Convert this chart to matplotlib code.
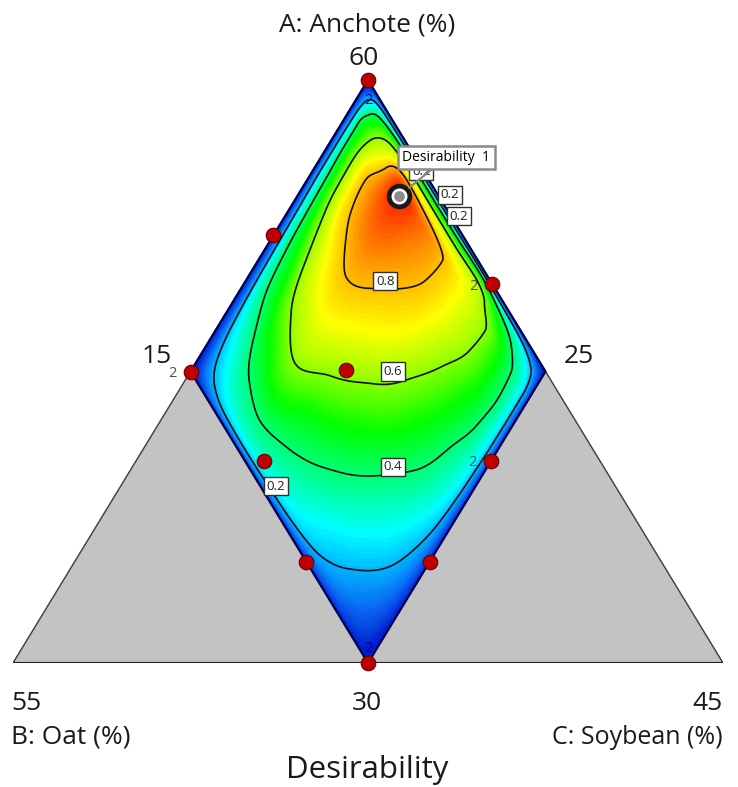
import numpy as np
import matplotlib
matplotlib.use('Agg')
import matplotlib.pyplot as plt
from matplotlib.colors import LinearSegmentedColormap

plt.rcParams['font.family'] = ['Open Sans', 'DejaVu Sans']

W, H = 738, 787

# component limits (%) of the plotted simplex
a_lo, a_hi = 30, 60
b_lo, b_hi = 25, 55
c_lo, c_hi = 15, 45
b_max, c_max = 40, 30          # extra limits giving the diamond

# design points (A, B, C)
pts_A = [60, 45, 30, 52, 49.5, 45.1, 40.4, 40.4, 35.2, 35.2]
pts_B = [25, 40, 40, 33, 25, 33.4, 39.2, 29.6, 40, 34.8]
pts_C = [15, 15, 30, 15, 25.5, 21.5, 20.4, 30, 24.8, 30]
opt = (54.05, 26.65, 19.3)     # desirability = 1

# desirability on a grid inside the diamond
# columns: B from 25 to 40, rows: C from 15 to 30 (fraction of the 15% span)
grid_b = [0, 0.02, 0.05, 0.1, 0.18, 0.28, 0.4, 0.52, 0.64, 0.76, 0.87, 0.95, 0.985, 1]
grid_c = [0, 0.02, 0.05, 0.1, 0.18, 0.28, 0.4, 0.52, 0.64, 0.76, 0.87, 0.95, 0.985, 1]
desir = [
    [0, 0, 0, 0, 0, 0, 0, 0, 0, 0, 0, 0, 0, 0],
    [0, .08, .15, .18, .19, .19, .17, .15, .13, .11, .09, .06, .03, 0],
    [0, .20, .33, .42, .42, .40, .38, .36, .33, .27, .21, .15, .07, 0],
    [0, .30, .50, .58, .62, .61, .56, .50, .45, .37, .30, .22, .12, 0],
    [0, .37, .62, .74, .83, .80, .72, .66, .58, .48, .38, .29, .16, 0],
    [0, .40, .70, 1.0, .95, .88, .80, .72, .64, .54, .42, .32, .17, 0],
    [0, .39, .68, .90, .87, .82, .75, .67, .58, .48, .39, .30, .16, 0],
    [0, .40, .66, .80, .79, .75, .68, .60, .52, .43, .35, .27, .14, 0],
    [0, .45, .66, .70, .69, .65, .59, .53, .45, .37, .29, .22, .11, 0],
    [0, .35, .52, .60, .59, .55, .50, .44, .37, .30, .23, .16, .08, 0],
    [0, .25, .38, .45, .46, .44, .39, .35, .29, .23, .16, .10, .05, 0],
    [0, .14, .25, .31, .32, .30, .28, .24, .19, .14, .09, .05, .02, 0],
    [0, .06, .11, .14, .14, .14, .12, .10, .08, .06, .03, .01, 0, 0],
    [0, 0, 0, 0, 0, 0, 0, 0, 0, 0, 0, 0, 0, 0],
]

# contour labels: (A, B, C, text)
labels = [(55.3, 25.1, 19.6, '0.2'), (54.1, 24.5, 21.4, '0.2'), (53.0, 24.65, 22.35, '0.2'),
          (39.1, 39.35, 21.55, '0.2'), (40.1, 33.9, 26.0, '0.4'), (45.0, 31.45, 23.55, '0.6'),
          (49.65, 29.45, 20.9, '0.8')]
# replicate counts next to points: (A, B, C, dx, dy)
reps = [(45, 40, 15, -18, -2), (49.5, 25, 25.5, -19, -2), (40.4, 29.6, 30, -19, -2),
        (30, 40, 30, 0, 14), (60, 25, 15, 0, -20)]


def tern(A, B, C):
    a = (np.asarray(A, float) - a_lo) / (a_hi - a_lo)
    c = (np.asarray(C, float) - c_lo) / (c_hi - c_lo)
    return c + a / 2, a


def pchip(x, y, xn):
    # monotone cubic along axis 0 of y
    x = np.asarray(x, float)
    h = np.diff(x)
    dl = np.diff(y, axis=0) / h[:, None]
    d = np.zeros_like(y)
    w1 = (2 * h[1:] + h[:-1])[:, None]
    w2 = (h[1:] + 2 * h[:-1])[:, None]
    with np.errstate(divide='ignore', invalid='ignore'):
        hm = (w1 + w2) / (w1 / dl[:-1] + w2 / dl[1:])
    d[1:-1] = np.where(dl[:-1] * dl[1:] > 0, hm, 0)
    d[0] = dl[0]
    d[-1] = dl[-1]
    k = np.clip(np.searchsorted(x, xn, side='right') - 1, 0, len(h) - 1)
    t = ((xn - x[k]) / h[k])[:, None]
    hk = h[k][:, None]
    return ((2 * t**3 - 3 * t**2 + 1) * y[k] + (t**3 - 2 * t**2 + t) * hk * d[k]
            + (-2 * t**3 + 3 * t**2) * y[k + 1] + (t**3 - t**2) * hk * d[k + 1])


Z = np.array(desir, float)
fine = np.linspace(0, 1, 301)
Z1 = pchip(grid_b, Z.T, fine)          # (u, c-rows)
Zf = pchip(grid_c, Z1.T, fine)         # (v, u)
Zf = np.clip(Zf, 0, 1)
gb, gc = np.meshgrid(fine, fine)
Bg = b_lo + (b_max - b_lo) * gb
Cg = c_lo + (c_max - c_lo) * gc
X, Y = tern(100 - Bg - Cg, Bg, Cg)

cmap = LinearSegmentedColormap.from_list('des', [
    (0.0, '#0018c8'), (0.1, '#0a5ff0'), (0.2, '#00b4ff'), (0.28, '#00ffff'),
    (0.5, '#00ff00'), (0.62, '#a0ff00'), (0.72, '#ffff00'), (0.85, '#ff9900'),
    (1.0, '#ff2000')])

fig = plt.figure(figsize=(W / 100, H / 100), dpi=100)
ax = fig.add_axes([13 / W, (H - 663) / H, 710 / W, 583 / H])
ax.set_xlim(0, 1)
ax.set_ylim(0, 1)
ax.axis('off')

tx, ty = tern([a_lo, a_lo, a_hi], [b_hi, b_lo, b_lo], [c_lo, c_hi, c_lo])
ax.fill(tx, ty, color='#c3c3c3', zorder=0)
ax.plot(list(tx) + [tx[0]], list(ty) + [ty[0]], color='#404040', lw=1.0, zorder=1)
ax.plot(tx[:2], ty[:2], color='#202020', lw=1.5, zorder=1)

ax.contourf(X, Y, Zf, levels=np.linspace(0, 1, 101), cmap=cmap, extend='both', zorder=2)
ax.contour(X, Y, Zf, levels=[0.2, 0.4, 0.6, 0.8], colors='#101010', linewidths=1.2, zorder=3)

dA = [a_hi, 45, a_lo, 45, a_hi]
dB = [b_lo, b_max, b_max, b_lo, b_lo]
dC = [c_lo, c_lo, c_max, c_max, c_lo]
dx, dy = tern(dA, dB, dC)
ax.plot(dx, dy, color='#000050', lw=1.6, zorder=4)

px, py = tern(pts_A, pts_B, pts_C)
ax.scatter(px, py, s=110, c='#c00000', edgecolors='#600000', linewidths=0.8,
           zorder=6, clip_on=False)

ox, oy = tern(*opt)
ax.scatter([ox], [oy], s=300, c='#1a1a1a', zorder=6)
ax.scatter([ox], [oy], s=110, c='white', zorder=6)
ax.scatter([ox], [oy], s=45, c='#8c8c8c', zorder=6)

# flag for the optimum
ax.annotate('Desirability  1', xy=(ox, oy), xytext=(3, 38), textcoords='offset pixels',
            fontsize=10, ha='left', va='center', zorder=10,
            bbox=dict(boxstyle='square,pad=0.3', fc='white', ec='#8a8a8a', lw=1.8),
            arrowprops=dict(arrowstyle='-', color='#8a8a8a', lw=1.6, shrinkA=0, shrinkB=9))

lab_box = dict(boxstyle='square,pad=0.2', fc='white', ec='#303030', lw=1.0)
for A, B, C, t in labels:
    lx, ly = tern(A, B, C)
    ax.text(lx, ly, t, fontsize=9.5, ha='center', va='center', bbox=lab_box,
            color='#202020', zorder=9)

for A, B, C, ddx, ddy in reps:
    rx, ry = tern(A, B, C)
    col = '#000080' if ddx == 0 else '#505050'
    ax.annotate('2', xy=(rx, ry), xytext=(ddx, ddy), textcoords='offset pixels',
                fontsize=10.5, ha='center', va='center', color=col, zorder=9)


def fx(p):
    return p / W


def fy(p):
    return 1 - p / H


tc = '#1a1a1a'
fs = 19
fig.text(fx(367), fy(32), 'A: Anchote (%)', fontsize=fs, ha='center', va='baseline', color=tc)
fig.text(fx(364), fy(65), '60', fontsize=fs, ha='center', va='baseline', color=tc)
fig.text(fx(172), fy(363), '15', fontsize=fs, ha='right', va='baseline', color=tc)
fig.text(fx(564), fy(363), '25', fontsize=fs, ha='left', va='baseline', color=tc)
fig.text(fx(11), fy(710), '55', fontsize=fs, ha='left', va='baseline', color=tc)
fig.text(fx(367), fy(710), '30', fontsize=fs, ha='center', va='baseline', color=tc)
fig.text(fx(723), fy(710), '45', fontsize=fs, ha='right', va='baseline', color=tc)
fig.text(fx(11), fy(744), 'B: Oat (%)', fontsize=fs, ha='left', va='baseline', color=tc)
fig.text(fx(723), fy(744), 'C: Soybean (%)', fontsize=18, ha='right', va='baseline', color=tc)
fig.text(fx(367), fy(778), 'Desirability', fontsize=22.5, ha='center', va='baseline', color=tc)

fig.savefig('out.png', dpi=100)
